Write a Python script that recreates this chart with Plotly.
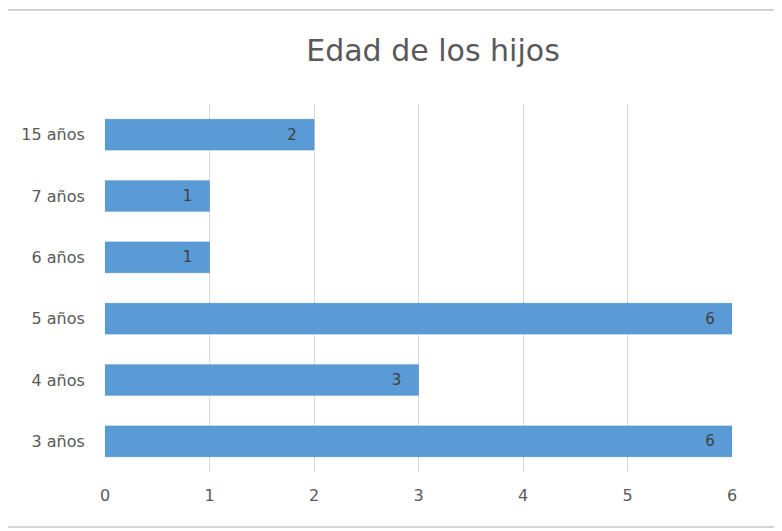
import plotly.graph_objects as go

categories = ["3 años", "4 años", "5 años", "6 años", "7 años", "15 años"]
values = [6, 3, 6, 1, 1, 2]
x_ticks = [0, 1, 2, 3, 4, 5, 6]
title_text = "Edad de los hijos"

FONT = "DejaVu Sans, Verdana, sans-serif"
TXT = "#595959"

# figure pixel geometry (page body adds an 8px offset)
L, T, PW, PH = 97, 96, 627, 368
W, H = 782, 531


def py(y):
    return (T + PH - y) / PH


fig = go.Figure()
fig.add_trace(go.Bar(
    y=categories,
    x=values,
    orientation="h",
    width=0.5,
    marker=dict(color="#5B9BD5", line=dict(color="#4F8FCC", width=0.6)),
    texttemplate="%{x}\u00a0\u00a0\u00a0",
    textposition="inside",
    insidetextanchor="end",
    textfont=dict(family=FONT, size=15, color="#404040"),
    hoverinfo="skip",
))

fig.update_layout(
    width=W,
    height=H,
    paper_bgcolor="white",
    plot_bgcolor="white",
    showlegend=False,
    margin=dict(l=L, r=W - L - PW, t=T, b=H - T - PH, autoexpand=False),
    title=dict(
        text=title_text,
        x=425 / W, xanchor="center",
        y=1 - 42 / H, yanchor="middle",
        font=dict(family=FONT, size=30, color=TXT),
    ),
    font=dict(family=FONT, color=TXT),
    xaxis=dict(
        range=[0, 6],
        tickvals=x_ticks,
        showgrid=True,
        gridcolor="#D9D9D9",
        gridwidth=1,
        zeroline=False,
        showline=False,
        ticks="outside",
        ticklen=9,
        tickcolor="rgba(0,0,0,0)",
        tickfont=dict(family=FONT, size=16, color=TXT),
        automargin=False,
        fixedrange=True,
    ),
    yaxis=dict(
        categoryorder="array",
        categoryarray=categories,
        showgrid=False,
        zeroline=False,
        showline=False,
        ticks="outside",
        ticklen=16,
        tickcolor="rgba(0,0,0,0)",
        tickfont=dict(family=FONT, size=16, color=TXT),
        automargin=False,
        fixedrange=True,
    ),
    shapes=[
        dict(type="line", xref="paper", yref="paper", x0=-1, x1=2, y0=py(2), y1=py(2),
             line=dict(color="#D4D4D4", width=2)),
        dict(type="line", xref="paper", yref="paper", x0=-1, x1=2, y0=py(519), y1=py(519),
             line=dict(color="#D4D4D4", width=2)),
    ],
)

fig.write_html("out.html")
